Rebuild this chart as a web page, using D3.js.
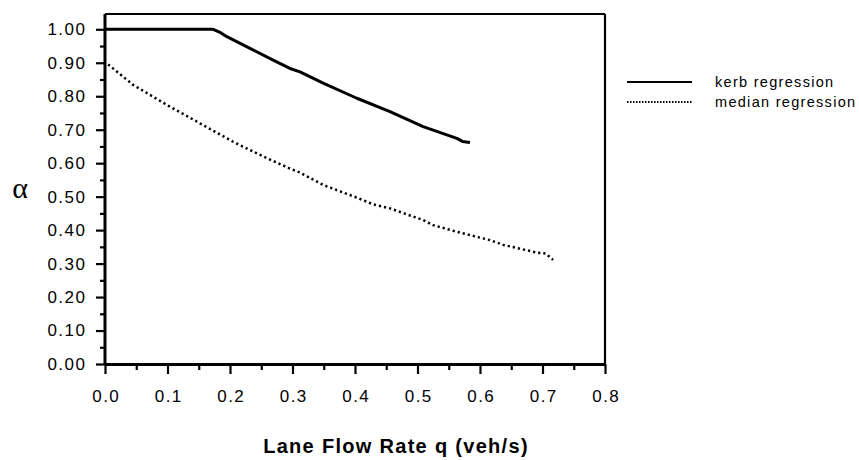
<!DOCTYPE html>
<html>
<head>
<meta charset="utf-8">
<script src="https://cdn.jsdelivr.net/npm/d3@7"></script>
<style>
  html, body { margin: 0; padding: 0; background: #fff; }
  svg { display: block; }
  text { font-family: "Liberation Sans", Arial, Helvetica, sans-serif; fill: #000; }
</style>
</head>
<body>
<svg id="chart" width="859" height="460"></svg>
<script>
// ---- data ----
const xTicks = [0.0, 0.1, 0.2, 0.3, 0.4, 0.5, 0.6, 0.7, 0.8];
const yTicks = [0.0, 0.1, 0.2, 0.3, 0.4, 0.5, 0.6, 0.7, 0.8, 0.9, 1.0];
const seriesNames = ["kerb regression", "median regression"];
const kerbQ =     [0.000, 0.173, 0.185, 0.195, 0.232, 0.269, 0.296, 0.312, 0.349, 0.403, 0.456, 0.509, 0.563, 0.572, 0.584];
const kerbAlpha = [1.000, 1.000, 0.990, 0.978, 0.943, 0.908, 0.883, 0.873, 0.839, 0.794, 0.754, 0.709, 0.674, 0.665, 0.662];
const medQ =     [0.005, 0.045, 0.099, 0.152, 0.205, 0.259, 0.296, 0.312, 0.349, 0.403, 0.429, 0.456, 0.509, 0.525, 0.563, 0.584, 0.616, 0.637, 0.691, 0.705, 0.717];
const medAlpha = [0.895, 0.834, 0.774, 0.719, 0.664, 0.615, 0.584, 0.572, 0.535, 0.497, 0.477, 0.465, 0.430, 0.415, 0.395, 0.385, 0.370, 0.356, 0.333, 0.330, 0.311];

// ---- layout ----
const svg = d3.select("#chart");
const leftX = 105, rightX = 605, bottomY = 364, yOneAt = 29.3;
const x = d3.scaleLinear().domain([0, 0.8]).range([leftX, rightX]);
const y = d3.scaleLinear().domain([0, 1]).range([bottomY, yOneAt]);
const topY = y(1.0457);

// frame (top & right thinner)
svg.append("line").attr("x1", leftX).attr("x2", rightX).attr("y1", topY).attr("y2", topY)
  .attr("stroke", "#000").attr("stroke-width", 2.2);
svg.append("line").attr("x1", rightX).attr("x2", rightX).attr("y1", topY).attr("y2", bottomY)
  .attr("stroke", "#000").attr("stroke-width", 2.2);

// x axis
const xMinor = d3.range(0.05, 0.8, 0.1);
const xAxis = svg.append("g").attr("transform", `translate(0,${bottomY})`)
  .call(d3.axisBottom(x).tickValues(xTicks).tickFormat(d3.format(".1f")).tickSizeInner(10).tickSizeOuter(0).tickPadding(16));
xAxis.select(".domain").attr("stroke-width", 3);
xAxis.selectAll(".tick line").attr("stroke-width", 2.2);
xAxis.selectAll("text").attr("font-size", 17).attr("letter-spacing", 1.4).attr("font-family", "Liberation Sans, Arial, sans-serif").attr("dx", 0.7);
svg.append("g").attr("transform", `translate(0,${bottomY})`)
  .call(d3.axisBottom(x).tickValues(xMinor).tickFormat("").tickSizeInner(6).tickSizeOuter(0))
  .call(g => g.select(".domain").remove())
  .selectAll(".tick line").attr("stroke-width", 2.2);

// y axis
const yMinor = d3.range(0.05, 1.05, 0.1);
const yAxis = svg.append("g").attr("transform", `translate(${leftX},0)`)
  .call(d3.axisLeft(y).tickValues(yTicks).tickFormat(d3.format(".2f")).tickSizeInner(9).tickSizeOuter(0).tickPadding(11));
yAxis.select(".domain").attr("d", `M0,${bottomY}V${topY}`).attr("stroke-width", 3);
yAxis.selectAll(".tick line").attr("stroke-width", 2.2);
yAxis.selectAll("text").attr("font-size", 17).attr("letter-spacing", 1.5).attr("font-family", "Liberation Sans, Arial, sans-serif").attr("dx", 1.5);
svg.append("g").attr("transform", `translate(${leftX},0)`)
  .call(d3.axisLeft(y).tickValues(yMinor).tickFormat("").tickSizeInner(5).tickSizeOuter(0))
  .call(g => g.select(".domain").remove())
  .selectAll(".tick line").attr("stroke-width", 2.2);

// axis titles
svg.append("text").attr("x", 396).attr("y", 453).attr("text-anchor", "middle")
  .attr("font-size", 20).attr("font-weight", "bold").attr("letter-spacing", 1.3)
  .text("Lane Flow Rate q (veh/s)");
svg.append("text").attr("x", 20).attr("y", 198).attr("text-anchor", "middle")
  .attr("font-size", 30).style("font-family", "'Liberation Serif', 'DejaVu Serif', serif")
  .text("α");

// lines
const kerb = kerbQ.map((q, i) => [q, kerbAlpha[i]]);
const med = medQ.map((q, i) => [q, medAlpha[i]]);
const line = d3.line().x(d => x(d[0])).y(d => y(d[1]));
svg.append("path").datum(kerb).attr("d", line).attr("fill", "none")
  .attr("stroke", "#000").attr("stroke-width", 3).attr("stroke-linejoin", "round");
svg.append("path").datum(med).attr("d", line).attr("fill", "none")
  .attr("stroke", "#000").attr("stroke-width", 2.5).attr("stroke-dasharray", "2.2,3");

// legend
const leg = svg.append("g");
const legY = [82, 102];
const legDash = [null, "1.5,1.5"];
const legW = [2.2, 1.8];
seriesNames.forEach((name, i) => {
  leg.append("line").attr("x1", 627).attr("x2", 692).attr("y1", legY[i]).attr("y2", legY[i])
    .attr("stroke", "#000").attr("stroke-width", legW[i]).attr("stroke-dasharray", legDash[i]);
  leg.append("text").attr("x", 715).attr("y", legY[i] + 5).attr("font-size", 14.5)
    .attr("letter-spacing", 1.3).text(name);
});
</script>
</body>
</html>
